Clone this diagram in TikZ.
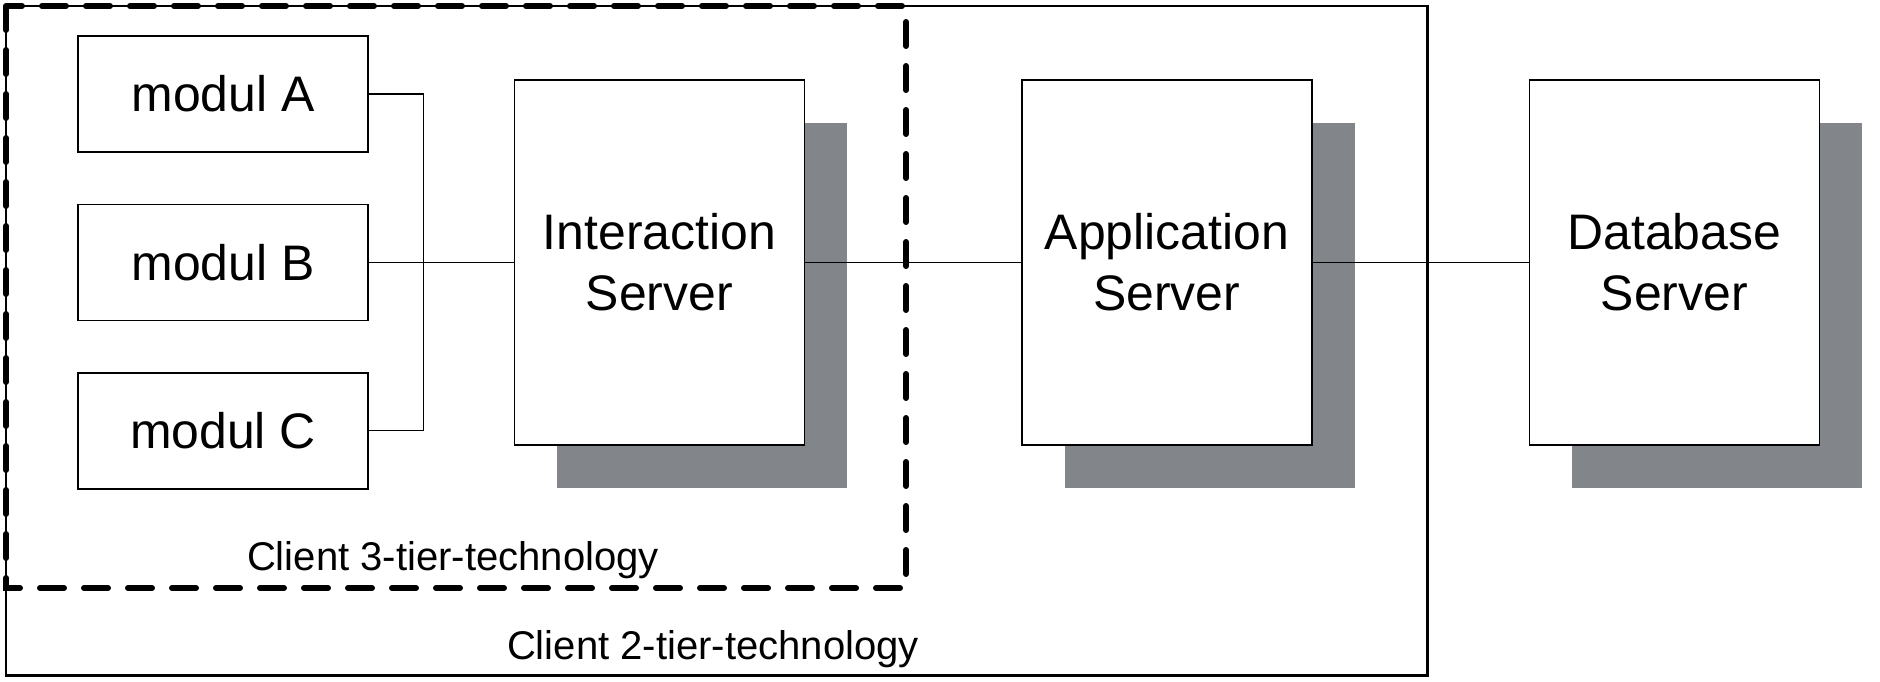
\documentclass[tikz,border=0pt]{standalone}
\usepackage{fontspec}
\setmainfont{Liberation Sans}
\usetikzlibrary{positioning,shadows}
\definecolor{shadowgray}{HTML}{82868A}
\begin{document}
\begin{tikzpicture}[font=\fontsize{14.2}{17.4}\selectfont,
	modul/.style={draw,line width=.4pt,fill=white,minimum width=2.9cm,minimum height=1.16cm,inner sep=0pt},
	server/.style={draw,line width=.4pt,fill=white,minimum width=2.9cm,minimum height=3.65cm,inner sep=0pt,align=center,
		general shadow={fill=shadowgray,shadow xshift=.43cm,shadow yshift=-.43cm}},
	link/.style={line width=.3pt},
	tier/.style={font=\fontsize{11.4}{13}\selectfont,anchor=base}]
	\useasboundingbox (0,0) rectangle (18.8,-6.81);
	\draw[line width=.85pt] (.06,-.06) rectangle (14.27,-6.75);
	\draw[line width=.06cm,dash pattern=on .24cm off .2cm,line cap=round] (.06,-.06) rectangle (9.06,-5.88);
	\node[modul] (ma) at (2.23,-.94) {modul A};
	\node[modul,below=.51cm of ma] (mb) {modul B};
	\node[modul,below=.51cm of mb] (mc) {modul C};
	\node[server,right=1.45cm of mb] (is) {Interaction\\Server};
	\node[server,right=2.16cm of is] (as) {Application\\Server};
	\node[server,right=2.16cm of as] (ds) {Database\\Server};
	\coordinate[right=.55cm of mb.east] (bus);
	\draw[link] (ma.east) -| (bus) |- (mc.east);
	\draw[link] (mb.east) -- (is.west);
	\draw[link] (is.east) -- (as.west);
	\draw[link] (as.east) -- (ds.west);
	\node[tier] (t3) at (4.53,-5.70) {Client 3-tier-technology};
	\node[tier] (t2) at (7.13,-6.59) {Client 2-tier-technology};
\end{tikzpicture}
\end{document}
